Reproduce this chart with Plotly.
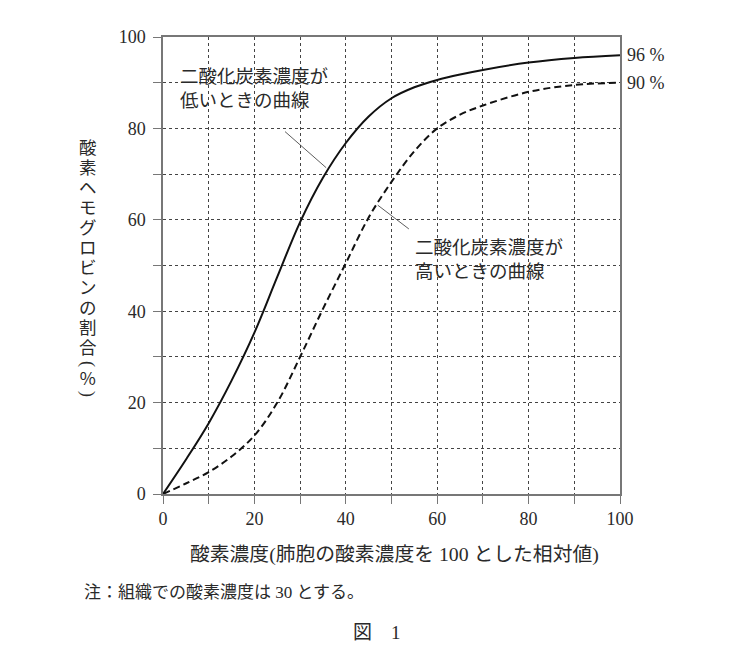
import plotly.graph_objects as go

# ---- data ----
oxygen = [0, 5, 10, 15, 20, 25, 30, 35, 40, 45, 50, 55, 60, 65, 70, 80, 90, 100]
low_co2 = [0, 7.5, 15.5, 24.8, 35.3, 47.5, 59.5, 69.2, 76.8, 82.6, 86.6, 89.0, 90.6, 91.8, 92.8, 94.4, 95.4, 96]
high_co2 = [0, 2.3, 4.8, 8.2, 12.8, 20, 30, 40.5, 50.5, 60.5, 68.3, 75, 80, 83, 85, 88, 89.5, 90]
y_ticks = [0, 20, 40, 60, 80, 100]
x_ticks = [0, 20, 40, 60, 80, 100]
low_label = "二酸化炭素濃度が<br>低いときの曲線"
high_label = "二酸化炭素濃度が<br>高いときの曲線"
y_title_chars = ["酸", "素", "ヘ", "モ", "グ", "ロ", "ビ", "ン", "の", "割", "合", "(", "％", ")"]
x_title = "酸素濃度(肺胞の酸素濃度を 100 とした相対値)"
note = "注：組織での酸素濃度は 30 とする。"
fig_label = "図　1"

FONT = "Liberation Serif, Noto Sans CJK JP, serif"
TXT = "#2a2a2a"

fig = go.Figure()
fig.add_trace(go.Scatter(x=oxygen, y=low_co2, mode="lines",
                         line=dict(color="#111", width=2, shape="spline", smoothing=1.0),
                         showlegend=False, hoverinfo="skip"))
fig.add_trace(go.Scatter(x=oxygen, y=high_co2, mode="lines",
                         line=dict(color="#111", width=2, dash="7px,4px", shape="spline", smoothing=1.0),
                         showlegend=False, hoverinfo="skip"))

axis_common = dict(
    range=[0, 100], showline=True, linecolor="#777", linewidth=1.5, mirror=True,
    ticks="outside", ticklen=8, tickcolor="#777", tickwidth=1.2,
    showgrid=True, gridcolor="#444", gridwidth=1, griddash="dot",
    zeroline=False, tickfont=dict(family=FONT, size=18, color=TXT),
    minor=dict(dtick=10, ticks="outside", ticklen=8, tickcolor="#777", tickwidth=1.2,
               showgrid=True, gridcolor="#444", gridwidth=1, griddash="dot"),
    fixedrange=True,
)
fig.update_xaxes(**axis_common, tickvals=x_ticks)
fig.update_yaxes(**axis_common, tickvals=y_ticks, ticklabelstandoff=4)

annotations = []
# end labels
annotations.append(dict(x=oxygen[-1], y=low_co2[-1], xref="x", yref="y", text=f"{low_co2[-1]:.0f} %",
                        showarrow=False, xanchor="left", xshift=5, font=dict(family=FONT, size=18, color=TXT)))
annotations.append(dict(x=oxygen[-1], y=high_co2[-1], xref="x", yref="y", text=f"{high_co2[-1]:.0f} %",
                        showarrow=False, xanchor="left", xshift=5, font=dict(family=FONT, size=18, color=TXT)))
# curve labels
annotations.append(dict(x=3.3, y=88.7, xref="x", yref="y", text=low_label, showarrow=False,
                        xanchor="left", yanchor="middle", align="left",
                        font=dict(family=FONT, size=18.5, color=TXT)))
annotations.append(dict(x=54.6, y=51.3, xref="x", yref="y", text=high_label, showarrow=False,
                        xanchor="left", yanchor="middle", align="left",
                        font=dict(family=FONT, size=18.5, color=TXT)))
# vertical y-axis title, one character per row (parentheses rotated as in vertical writing)
ypix = 148
for ch in y_title_chars:
    paren = ch in ("(", ")")
    if ch == "(":
        ypix -= 4
    annotations.append(dict(x=-75 / 457, y=(494 - ypix) / 457, xref="paper", yref="paper", text=ch,
                            showarrow=False, xanchor="center", yanchor="middle",
                            textangle=90 if paren else 0,
                            font=dict(family=FONT, size=18 if paren else 17.5, color=TXT)))
    ypix += 15 if paren or ch == "％" else 20
# x title, note, figure label
annotations.append(dict(x=(394 - 163) / 457, y=(494 - 554) / 457, xref="paper", yref="paper", text=x_title,
                        showarrow=False, xanchor="center", yanchor="middle",
                        font=dict(family=FONT, size=19.8, color=TXT)))
annotations.append(dict(x=(82 - 163) / 457, y=(494 - 592) / 457, xref="paper", yref="paper", text=note,
                        showarrow=False, xanchor="left", yanchor="middle",
                        font=dict(family=FONT, size=17, color=TXT)))
annotations.append(dict(x=(377 - 163) / 457, y=(494 - 632) / 457, xref="paper", yref="paper", text=fig_label,
                        showarrow=False, xanchor="center", yanchor="middle",
                        font=dict(family=FONT, size=19, color=TXT)))

# leader lines
shapes = [
    dict(type="line", xref="x", yref="y", x0=26.7, y0=79.3, x1=35.7, y1=71.4,
         line=dict(color="#333", width=0.8)),
    dict(type="line", xref="x", yref="y", x0=47.0, y0=63.2, x1=53.8, y1=58.0,
         line=dict(color="#333", width=0.8)),
]

fig.update_layout(
    width=747, height=668,
    margin=dict(l=163, r=127, t=37, b=174),
    plot_bgcolor="white", paper_bgcolor="white",
    annotations=annotations, shapes=shapes,
    font=dict(family=FONT, color=TXT),
)
fig.write_html("out.html")
